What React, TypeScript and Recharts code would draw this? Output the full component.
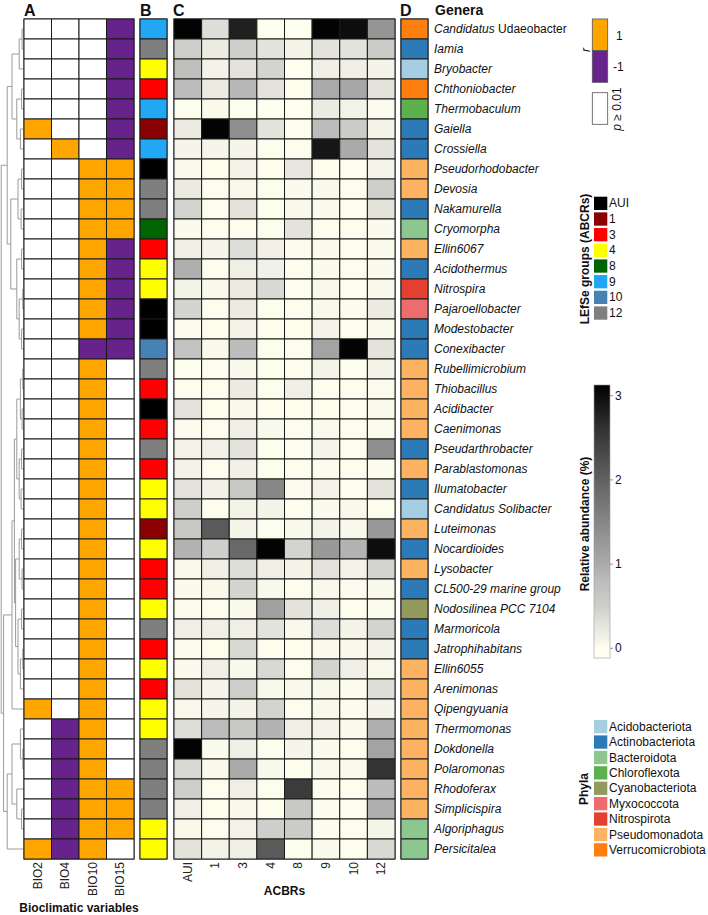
import React from "react";
import { BarChart, Bar, Cell, XAxis, YAxis, ScatterChart, Scatter, ReferenceArea } from "recharts";

const FONT = "'Liberation Sans', Arial, Helvetica, sans-serif";
const H = 915;
const GRID_TOP = 19;
const GRID_BOTTOM = 859;

const genera = [
  "Candidatus Udaeobacter", "Iamia", "Bryobacter", "Chthoniobacter", "Thermobaculum",
  "Gaiella", "Crossiella", "Pseudorhodobacter", "Devosia", "Nakamurella",
  "Cryomorpha", "Ellin6067", "Acidothermus", "Nitrospira", "Pajaroellobacter",
  "Modestobacter", "Conexibacter", "Rubellimicrobium", "Thiobacillus", "Acidibacter",
  "Caenimonas", "Pseudarthrobacter", "Parablastomonas", "Ilumatobacter", "Candidatus Solibacter",
  "Luteimonas", "Nocardioides", "Lysobacter", "CL500-29 marine group", "Nodosilinea PCC 7104",
  "Marmoricola", "Jatrophihabitans", "Ellin6055", "Arenimonas", "Qipengyuania",
  "Thermomonas", "Dokdonella", "Polaromonas", "Rhodoferax", "Simplicispira",
  "Algoriphagus", "Persicitalea",
];
// words printed upright inside a genus label
const uprightWords = ["Udaeobacter"];

const bioVars = ["BIO2", "BIO4", "BIO10", "BIO15"];
// 1 = r positive, -1 = r negative, 0 = p >= 0.01
const bioCorr = [
  [0, 0, 0, -1], [0, 0, 0, -1], [0, 0, 0, -1], [0, 0, 0, -1], [0, 0, 0, -1],
  [1, 0, 0, -1], [0, 1, 0, -1], [0, 0, 1, 1], [0, 0, 1, 1], [0, 0, 1, 1],
  [0, 0, 1, 1], [0, 0, 1, -1], [0, 0, 1, -1], [0, 0, 1, -1], [0, 0, 1, -1],
  [0, 0, 1, -1], [0, 0, -1, -1], [0, 0, 1, 0], [0, 0, 1, 0], [0, 0, 1, 0],
  [0, 0, 1, 0], [0, 0, 1, 0], [0, 0, 1, 0], [0, 0, 1, 0], [0, 0, 1, 0],
  [0, 0, 1, 0], [0, 0, 1, 0], [0, 0, 1, 0], [0, 0, 1, 0], [0, 0, 1, 0],
  [0, 0, 1, 0], [0, 0, 1, 0], [0, 0, 1, 0], [0, 0, 1, 0], [1, 0, 1, 0],
  [0, -1, 1, 0], [0, -1, 1, 0], [0, -1, 1, 0], [0, -1, 1, 1], [0, -1, 1, 1],
  [0, -1, 1, 1], [1, -1, 1, 0],
];

const lefseGroups = ["AUI", "1", "3", "4", "8", "9", "10", "12"];
const lefseColors = ["#000000", "#8B0000", "#FF0000", "#FFFF00", "#006400", "#22A7F5", "#4682B4", "#7F7F7F"];
const lefseOfGenus = [
  "9", "12", "4", "3", "9", "1", "9", "AUI", "12", "12", "8", "3", "4", "4", "AUI",
  "AUI", "10", "12", "3", "AUI", "3", "12", "3", "4", "4", "1", "4", "3", "3",
  "4", "12", "3", "4", "3", "4", "4", "12", "12", "12", "12", "4", "4",
];

const acbrs = ["AUI", "1", "3", "4", "8", "9", "10", "12"];
// relative abundance (%), one row per genus, columns as acbrs
const abundance = [
  [3.1, 0.35, 2.8, 0, 0, 3.1, 3.0, 1.3],
  [0.5, 0.2, 0.5, 0.3, 0.1, 0.3, 0.3, 0.55],
  [0.75, 0.1, 0.3, 0.45, 0, 0.15, 0.15, 0.1],
  [0.8, 0.2, 0.85, 0.3, 0.02, 1.0, 1.05, 0.3],
  [0.02, 0.05, 0.02, 0, 0, 0.2, 0.1, 0.03],
  [0.2, 3.1, 1.4, 0.3, 0.02, 0.8, 0.55, 0.1],
  [0.08, 0.08, 0.08, 0.02, 0.02, 2.9, 1.0, 0.3],
  [0.05, 0.02, 0.1, 0.02, 0.25, 0.02, 0.02, 0.08],
  [0.2, 0.02, 0.07, 0.02, 0.04, 0.06, 0.02, 0.5],
  [0.45, 0.02, 0.3, 0.02, 0.06, 0.04, 0.02, 0.3],
  [0.04, 0.02, 0.02, 0.02, 0.3, 0.02, 0.02, 0.04],
  [0.15, 0.08, 0.35, 0.12, 0.03, 0.04, 0.02, 0.04],
  [0.95, 0.02, 0.15, 0.12, 0.02, 0.04, 0.02, 0.04],
  [0.1, 0.06, 0.2, 0.4, 0.02, 0.06, 0.02, 0.06],
  [0.45, 0.02, 0.2, 0.02, 0.02, 0.06, 0.03, 0.2],
  [0.03, 0.02, 0.1, 0.02, 0.02, 0.1, 0.02, 0.05],
  [0.7, 0.06, 0.8, 0.02, 0.02, 1.1, 3.1, 0.3],
  [0.02, 0.02, 0.06, 0.02, 0.02, 0.1, 0.02, 0.1],
  [0.02, 0.02, 0.2, 0.02, 0.15, 0.02, 0.02, 0.03],
  [0.3, 0.02, 0.06, 0.02, 0.02, 0.02, 0.02, 0.05],
  [0.03, 0.02, 0.15, 0.06, 0.02, 0.05, 0.02, 0.03],
  [0.1, 0.12, 0.3, 0.02, 0.02, 0.08, 0.02, 1.4],
  [0.1, 0.02, 0.12, 0.02, 0.02, 0.03, 0.02, 0.03],
  [0.3, 0.12, 0.6, 1.5, 0.03, 0.1, 0.02, 0.3],
  [0.5, 0.02, 0.1, 0.1, 0.02, 0.04, 0.06, 0.02],
  [0.6, 2.1, 0.08, 0.02, 0.06, 0.1, 0.06, 1.25],
  [0.9, 0.5, 1.9, 3.1, 0.45, 1.25, 0.9, 3.0],
  [0.06, 0.15, 0.35, 0.15, 0.1, 0.3, 0.1, 0.45],
  [0.04, 0.06, 0.45, 0.06, 0.02, 0.06, 0.03, 0.06],
  [0.03, 0.02, 0.04, 1.15, 0.3, 0.15, 0.02, 0.03],
  [0.15, 0.15, 0.15, 0.3, 0.06, 0.35, 0.1, 0.45],
  [0.03, 0.02, 0.4, 0.02, 0.02, 0.04, 0.06, 0.1],
  [0.04, 0.15, 0.06, 0.4, 0.02, 0.45, 0.15, 0.06],
  [0.3, 0.08, 0.5, 0.06, 0.06, 0.06, 0.03, 0.35],
  [0.06, 0.08, 0.1, 0.45, 0.02, 0.06, 0.03, 0.1],
  [0.35, 0.8, 0.6, 0.9, 0.15, 0.1, 0.04, 0.95],
  [3.1, 0.04, 0.15, 0.02, 0.08, 0.04, 0.02, 1.1],
  [0.4, 0.06, 1.0, 0.06, 0.02, 0.06, 0.05, 2.6],
  [0.5, 0.02, 0.15, 0.02, 2.5, 0.03, 0.02, 0.8],
  [0.15, 0.02, 0.06, 0.02, 0.6, 0.03, 0.02, 0.95],
  [0.06, 0.02, 0.1, 0.5, 0.55, 0.03, 0.02, 0.08],
  [0.3, 0.1, 0.15, 2.1, 0.02, 0.04, 0.02, 0.4],
];

const phyla = [
  "Acidobacteriota", "Actinobacteriota", "Bacteroidota", "Chloroflexota", "Cyanobacteriota",
  "Myxococcota", "Nitrospirota", "Pseudomonadota", "Verrucomicrobiota",
];
const phylaColors = ["#A6CEE3", "#2C7BB6", "#8CC78F", "#5AB14E", "#939A5E", "#EE6B6E", "#E4402F", "#FDB462", "#FF7F0E"];
const phylumOfGenus = [
  "Verrucomicrobiota", "Actinobacteriota", "Acidobacteriota", "Verrucomicrobiota", "Chloroflexota",
  "Actinobacteriota", "Actinobacteriota", "Pseudomonadota", "Pseudomonadota", "Actinobacteriota",
  "Bacteroidota", "Pseudomonadota", "Actinobacteriota", "Nitrospirota", "Myxococcota",
  "Actinobacteriota", "Actinobacteriota", "Pseudomonadota", "Pseudomonadota", "Pseudomonadota",
  "Pseudomonadota", "Actinobacteriota", "Pseudomonadota", "Actinobacteriota", "Acidobacteriota",
  "Pseudomonadota", "Actinobacteriota", "Pseudomonadota", "Actinobacteriota", "Cyanobacteriota",
  "Actinobacteriota", "Actinobacteriota", "Pseudomonadota", "Pseudomonadota", "Pseudomonadota",
  "Pseudomonadota", "Pseudomonadota", "Pseudomonadota", "Pseudomonadota", "Pseudomonadota",
  "Bacteroidota", "Bacteroidota",
];

// dendrogram: [height, left, right], leaves are row indices
const tree: any = [0.95,
  [0.7,
    [0.5, [0.2, [0.08, 0, 1], 2], [0.3, [0.1, 3, 4], [0.15, 5, 6]]],
    [0.55,
      [0.25, [0.1, 7, 8], [0.12, 9, 10]],
      [0.3, [0.1, 11, 12], [0.2, [0.05, 13, 14], [0.1, 15, 16]]]],
  ],
  [0.85,
    [0.5,
      [0.4,
        [0.3, [0.15, [0.05, 17, 18], [0.08, 19, 20]], [0.2, [0.1, 21, 22], [0.12, 23, 24]]],
        [0.35, [0.2, [0.1, 25, 26], [0.08, 27, 28]], [0.25, [0.1, 29, 30], [0.15, [0.05, 31, 32], 33]]]],
      34],
    [0.7,
      [0.5, [0.15, 35, [0.05, 36, 37]], [0.3, 38, [0.1, 39, 40]]],
      41],
  ],
];

const greyStops: [number, number[]][] = [
  [0, [255, 255, 240]], [0.1, [243, 243, 232]], [0.3, [227, 227, 220]], [0.5, [206, 206, 202]],
  [0.8, [188, 188, 188]], [1.0, [170, 170, 170]], [1.4, [142, 142, 142]], [2.1, [90, 90, 90]],
  [2.6, [51, 51, 51]], [3.13, [0, 0, 0]],
];
function greyFor(v: number) {
  if (v <= 0) return `rgb(${greyStops[0][1].join(",")})`;
  for (let i = 1; i < greyStops.length; i++) {
    const [v1, c1] = greyStops[i];
    if (v <= v1) {
      const [v0, c0] = greyStops[i - 1];
      const t = (v - v0) / (v1 - v0);
      const c = c0.map((a, k) => Math.round(a + (c1[k] - a) * t));
      return `rgb(${c.join(",")})`;
    }
  }
  return "rgb(0,0,0)";
}

function corrColor(v: number) {
  return v > 0 ? "#FFA500" : v < 0 ? "#68228B" : "#FFFFFF";
}

function makeRows(ncol: number) {
  return genera.map((g) => {
    const o: any = { genus: g };
    for (let k = 0; k < ncol; k++) o[`c${k}`] = 1;
    return o;
  });
}

const rotTick = (labels: string[]) => (props: any) => {
  const { x, y, payload } = props;
  const idx = Math.round(payload.value - 0.5);
  return (
    <text x={x} y={y} transform={`rotate(-90 ${x} ${y})`} textAnchor="end" dominantBaseline="central"
      fontSize={12} fontFamily={FONT} fill="#222">{labels[idx]}</text>
  );
};

const GenusTick = (props: any) => {
  const { x, y, payload } = props;
  const words = String(payload.value).split(" ");
  return (
    <text x={x} y={y} dy="0.35em" textAnchor="start" fontSize={12} fontFamily={FONT} fill="#111">
      {words.map((w, k) => (
        <tspan key={k} fontStyle={uprightWords.includes(w) ? "normal" : "italic"}>{(k ? " " : "") + w}</tspan>
      ))}
    </text>
  );
};

function HeatPanel(p: {
  left: number; width: number; marginLeft: number; marginRight: number; ncol: number;
  fillFor: (i: number, j: number) => string; labels?: string[]; title?: string; titleOffset?: number;
  genusAxis?: boolean;
}) {
  const rows = makeRows(p.ncol);
  const keys = rows.length ? Object.keys(rows[0]).filter((k) => k !== "genus") : [];
  const showX = !!p.labels;
  return (
    <div style={{ position: "absolute", left: p.left, top: 0 }}>
      <BarChart layout="vertical" width={p.width} height={H} data={rows} barCategoryGap={0} barGap={0}
        margin={{ top: GRID_TOP, bottom: showX ? 0 : H - GRID_BOTTOM, left: p.marginLeft, right: p.marginRight }}>
        {p.genusAxis ? (
          <YAxis type="category" dataKey="genus" orientation="right" width={280} axisLine={false} tickLine={false}
            tickSize={4} tickMargin={2} interval={0} tick={<GenusTick />} />
        ) : (
          <YAxis type="category" dataKey="genus" hide width={0} />
        )}
        <XAxis type="number" domain={[0, p.ncol]} hide={!showX} height={H - GRID_BOTTOM}
          ticks={keys.map((_, k) => k + 0.5)} interval={0} axisLine={false} tickLine={false}
          tickSize={0} tickMargin={3} tick={showX ? rotTick(p.labels as string[]) : false}
          label={p.title ? { value: p.title, position: "insideBottom", offset: p.titleOffset ?? 3,
            style: { fontWeight: 700, fontSize: 12, fontFamily: FONT, fill: "#111" } } : undefined} />
        {keys.map((k, j) => (
          <Bar key={k} dataKey={k} stackId="s" isAnimationActive={false}>
            {rows.map((_, i) => (
              <Cell key={i} fill={p.fillFor(i, j)} stroke="#1a1a1a" strokeWidth={1} />
            ))}
          </Bar>
        ))}
        <ReferenceArea x1={0} x2={p.ncol} fill="none" stroke="#6f6f6f" strokeWidth={1.5} ifOverflow="visible" />
      </BarChart>
    </div>
  );
}

function Dendrogram() {
  const series: { x: number; y: number }[][] = [];
  const walk = (node: any): { y: number; h: number } => {
    if (typeof node === "number") return { y: node, h: 0 };
    const [h, L, R] = node;
    const l = walk(L);
    const r = walk(R);
    series.push([{ x: l.h, y: l.y }, { x: h, y: l.y }, { x: h, y: r.y }, { x: r.h, y: r.y }]);
    return { y: (l.y + r.y) / 2, h };
  };
  walk(tree);
  return (
    <div style={{ position: "absolute", left: 0, top: 0 }}>
      <ScatterChart width={24} height={H} margin={{ top: GRID_TOP, bottom: H - GRID_BOTTOM, left: 0, right: 0 }}>
        <XAxis type="number" dataKey="x" domain={[0, 1]} reversed hide height={0} />
        <YAxis type="number" dataKey="y" domain={[-0.5, genera.length - 0.5]} reversed hide width={0} />
        {series.map((s, k) => (
          <Scatter key={k} data={s} line={{ stroke: "#9b9b9b", strokeWidth: 1 }} shape={() => <g />}
            isAnimationActive={false} />
        ))}
      </ScatterChart>
    </div>
  );
}

function Legends() {
  const t = { fontFamily: FONT, fontSize: 12, fill: "#111" } as const;
  const bold = { ...t, fontWeight: 700 } as const;
  const cbTop = 385, cbBottom = 658;
  const yOf = (v: number) => 648.3 - 84.2 * v;
  const stops = greyStops.map(([v]) => v);
  return (
    <svg width={708} height={H} style={{ position: "absolute", left: 0, top: 0, pointerEvents: "none" }}>
      <defs>
        <linearGradient id="abund" x1="0" y1="0" x2="0" y2="1">
          {[...stops].reverse().map((v) => (
            <stop key={v} offset={(yOf(v) - cbTop) / (cbBottom - cbTop)} stopColor={greyFor(v)} />
          ))}
        </linearGradient>
      </defs>
      <text x={24} y={16} style={{ ...bold, fontSize: 16 }}>A</text>
      <text x={140} y={16} style={{ ...bold, fontSize: 16 }}>B</text>
      <text x={173} y={16} style={{ ...bold, fontSize: 16 }}>C</text>
      <text x={400} y={16} style={{ ...bold, fontSize: 16 }}>D</text>
      <text x={435} y={15} style={{ ...bold, fontSize: 14 }}>Genera</text>

      {/* r legend */}
      <rect x={592.3} y={19} width={15.4} height={31.7} fill="#FFA500" stroke="#555" strokeWidth={0.8} />
      <rect x={592.3} y={50.7} width={15.4} height={31.6} fill="#68228B" stroke="#555" strokeWidth={0.8} />
      <text x={616} y={39.5} style={t}>1</text>
      <text x={613} y={71} style={t}>-1</text>
      <text x={586} y={50} transform="rotate(-90 586 50)" textAnchor="middle" dominantBaseline="central"
        style={{ ...t, fontStyle: "italic" }}>r</text>
      <rect x={592.3} y={92.7} width={15.4} height={31.6} fill="#fff" stroke="#555" strokeWidth={0.8} />
      <text x={617} y={109} transform="rotate(-90 617 109)" textAnchor="middle" dominantBaseline="central" style={t}>
        <tspan fontStyle="italic">p</tspan> ≥ 0.01
      </text>

      {/* LEfSe legend */}
      <text x={585} y={259} transform="rotate(-90 585 259)" textAnchor="middle" dominantBaseline="central" style={bold}>
        LEfSe groups (ABCRs)
      </text>
      {lefseGroups.map((g, k) => (
        <g key={g}>
          <rect x={594} y={196.7 + k * 15.67} width={13.3} height={13.3} fill={lefseColors[k]} />
          <text x={609} y={203.4 + k * 15.67} dominantBaseline="central" style={t}>{g}</text>
        </g>
      ))}

      {/* abundance colour bar */}
      <text x={585} y={524} transform="rotate(-90 585 524)" textAnchor="middle" dominantBaseline="central" style={bold}>
        Relative abundance (%)
      </text>
      <rect x={594} y={cbTop} width={16} height={cbBottom - cbTop} fill="url(#abund)" stroke="#999" strokeWidth={0.6} />
      {[0, 1, 2, 3].map((v) => (
        <g key={v}>
          <line x1={610} x2={613} y1={yOf(v)} y2={yOf(v)} stroke="#777" strokeWidth={0.8} />
          <text x={615} y={yOf(v)} dominantBaseline="central" style={t}>{v}</text>
        </g>
      ))}

      {/* phyla legend */}
      <text x={584} y={789} transform="rotate(-90 584 789)" textAnchor="middle" dominantBaseline="central" style={bold}>
        Phyla
      </text>
      {phyla.map((ph, k) => (
        <g key={ph}>
          <rect x={594} y={720 + k * 15.4} width={13.3} height={13.3} fill={phylaColors[k]} />
          <text x={609} y={726.7 + k * 15.4} dominantBaseline="central" style={t}>{ph}</text>
        </g>
      ))}
    </svg>
  );
}

export default function App() {
  return (
    <div style={{ position: "absolute", left: 0, top: 0, width: 708, height: H, background: "#fff", overflow: "hidden" }}>
      <Dendrogram />
      <HeatPanel left={0} width={140} marginLeft={24} marginRight={6} ncol={bioVars.length}
        fillFor={(i, j) => corrColor(bioCorr[i][j])} labels={bioVars} title="Bioclimatic variables" titleOffset={3} />
      <HeatPanel left={136} width={35} marginLeft={4} marginRight={4} ncol={1}
        fillFor={(i) => lefseColors[lefseGroups.indexOf(lefseOfGenus[i])]} />
      <HeatPanel left={170} width={230} marginLeft={4} marginRight={5} ncol={acbrs.length}
        fillFor={(i, j) => greyFor(abundance[i][j])} labels={acbrs} title="ACBRs" titleOffset={20} />
      <HeatPanel left={397} width={311} marginLeft={4} marginRight={0} ncol={1} genusAxis
        fillFor={(i) => phylaColors[phyla.indexOf(phylumOfGenus[i])]} />
      <Legends />
    </div>
  );
}
